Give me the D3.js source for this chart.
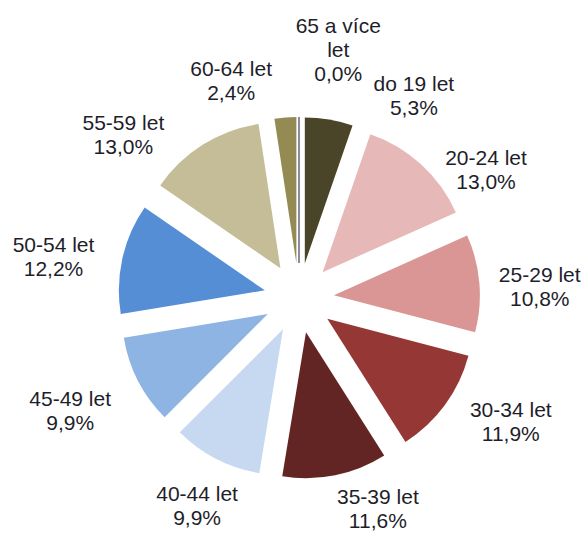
<!DOCTYPE html>
<html>
<head>
<meta charset="utf-8">
<script src="https://cdn.jsdelivr.net/npm/d3@7"></script>
<style>
  body { margin: 0; background: #fff; }
  .lbl { font-family: "Liberation Sans", Arial, sans-serif; font-size: 21px; fill: #1e1e2a; }
</style>
</head>
<body>
<script>
// age groups, clockwise from 12 o'clock
let groups = ["do 19 let", "20-24 let", "25-29 let", "30-34 let", "35-39 let",
              "40-44 let", "45-49 let", "50-54 let", "55-59 let", "60-64 let", "65 a více let"]
let shares = [5.3, 13.0, 10.8, 11.9, 11.6, 9.9, 9.9, 12.2, 13.0, 2.4, 0.0]
let colors = ["#4a4528", "#e6b9b8", "#d99694", "#953735", "#632523",
              "#c6d9f1", "#8eb4e3", "#558ed5", "#c4bd97", "#948a54", "#8c8c9a"]

// label layout: extra angle (deg) and distance from centre, like excel's best fit
let labelNudge = [[20, 233], [13, 227], [2, 241], [-6, 245], [-9, 225],
                  [-1, 231], [1, 255], [-3, 249], [-15, 240], [-13, 228], [9, 251]]

let width = 587
let height = 533
let cx = 299, cy = 298
let radius = 146
let explode = 35 // every slice is pulled out the same

let czech = d3.formatLocale({decimal: ",", thousands: " ", grouping: [3], currency: ["", " Kč"]})
let fmt = czech.format(".1f")

let svg = d3.select("body").append("svg")
    .attr("width", width)
    .attr("height", height)

let g = svg.append("g").attr("transform", `translate(${cx},${cy})`)

let data = groups.map((d, i) => ({label: d, value: shares[i], color: colors[i]}))

let pie = d3.pie()
    .sort(null)
    .value(d => d.value)

let arc = d3.arc().innerRadius(0).outerRadius(radius)

let arcs = pie(data)

function offsetOf(d, dist){
    let a = (d.startAngle + d.endAngle) / 2
    return [Math.sin(a) * dist, -Math.cos(a) * dist]
}

g.selectAll("path.slice")
    .data(arcs)
    .enter()
    .append("path")
    .attr("class", "slice")
    .attr("d", arc)
    .attr("fill", d => d.data.color)
    .attr("stroke", d => d.data.value == 0 ? d.data.color : "none") //0% slice only shows as a line
    .attr("stroke-width", 2)
    .attr("transform", d => {
        let o = offsetOf(d, explode)
        return `translate(${o[0]},${o[1]})`
    })

// labels
let lineH = 24
arcs.forEach((d, i) => {
    let a = (d.startAngle + d.endAngle) / 2 + labelNudge[i][0] * Math.PI / 180
    let r = labelNudge[i][1]
    let x = Math.sin(a) * r
    let y = -Math.cos(a) * r

    let lines
    if(d.data.value == 0){
        lines = ["65 a více", "let", fmt(d.data.value) + "%"]
    } else {
        lines = [d.data.label, fmt(d.data.value) + "%"]
    }
    let top = y - (lines.length - 1) * lineH / 2

    let t = g.append("text")
        .attr("class", "lbl")
        .attr("text-anchor", "middle")
    lines.forEach((s, j) => {
        t.append("tspan")
            .attr("x", x)
            .attr("y", top + j * lineH)
            .attr("dy", "0.35em")
            .text(s)
    })
})
</script>
</body>
</html>
